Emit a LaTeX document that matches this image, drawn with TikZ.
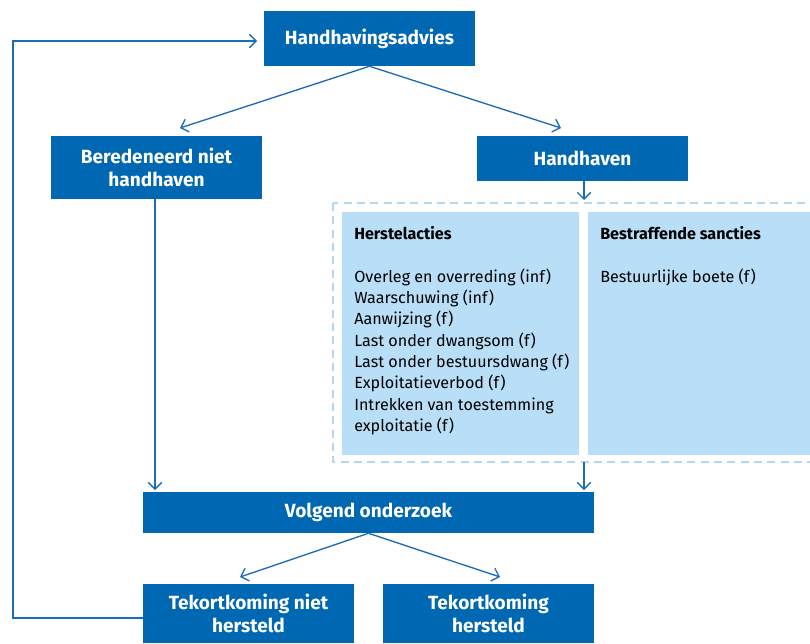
\documentclass[tikz,border=0pt]{standalone}
\usepackage{fontspec}
\setmainfont{Fira Sans}
\usetikzlibrary{arrows.meta}
\definecolor{boxblue}{HTML}{0067B2}
\definecolor{lineblue}{HTML}{1A6CB6}
\definecolor{panelblue}{HTML}{B8DFF7}
\definecolor{dashblue}{HTML}{B0D8F4}
\begin{document}
\begin{tikzpicture}[x=0.75pt,y=-0.75pt,
  bluebox/.style={fill=boxblue,text=white,font=\fontsize{14.3}{17.5}\selectfont\bfseries,align=center,inner sep=0pt,draw=none},
  conn/.style={draw=lineblue,line width=1pt,-{Straight Barb[length=5pt,width=10pt,line width=1pt]}},
  paneltext/.style={anchor=north west,align=left,inner sep=0pt,font=\fontsize{12.1}{16}\selectfont,text=black}]
\useasboundingbox (0,0) rectangle (810,643);
% boxes
\node[bluebox,minimum width=158.25pt,minimum height=41.25pt] (adv) at (369.5,38.5) {Handhavingsadvies};
\node[bluebox,minimum width=158.25pt,minimum height=47.25pt] (ber) at (156.5,167.5) {Beredeneerd niet\\handhaven};
\node[bluebox,minimum width=158.25pt,minimum height=33.75pt] (hh) at (582.5,158.5) {Handhaven};
\node[bluebox,minimum width=338.25pt,minimum height=30.75pt] (volg) at (368.5,512.5) {Volgend onderzoek};
\node[bluebox,minimum width=158.25pt,minimum height=44.25pt] (tnh) at (248.5,613.5) {Tekortkoming niet\\hersteld};
\node[bluebox,minimum width=158.25pt,minimum height=44.25pt] (th) at (488.5,613.5) {Tekortkoming\\hersteld};
% dashed container and panels
\draw[dashblue,line width=1pt,dash pattern=on 6pt off 4pt] (333,203) rectangle (830,462);
\coordinate (dashbot) at (584,462);
\fill[panelblue] (342,212) rectangle (579,455);
\fill[panelblue] (588,212) rectangle (830,455);
\node[paneltext] (herst) at (354,226) {\textbf{Herstelacties}\\[16pt]Overleg en overreding (inf)\\Waarschuwing (inf)\\Aanwijzing (f)\\Last onder dwangsom (f)\\Last onder bestuursdwang (f)\\Exploitatieverbod (f)\\Intrekken van toestemming\\exploitatie (f)};
\node[paneltext] (bestr) at (600,226) {\textbf{Bestraffende sancties}\\[16pt]Bestuurlijke boete (f)};
% connector end points
\coordinate (berin) at (180,128);
\coordinate (hhin) at (561,128);
\coordinate (dashin) at (584,200);
\coordinate (volgl) at (155,490);
\coordinate (volgr) at (584,490);
\coordinate (tnhin) at (240,577);
\coordinate (thin) at (500,577);
\coordinate (loopa) at (13,618);
\coordinate (loopb) at (13,41);
\coordinate (advin) at (257,41);
% connectors
\draw[conn] (adv.south) -- (berin);
\draw[conn] (adv.south) -- (hhin);
\draw[conn] (hh.south -| dashin) -- (dashin);
\draw[conn] (ber.south -| volgl) -- (volgl);
\draw[conn] (dashbot) -- (volgr);
\draw[conn] (volg.south) -- (tnhin);
\draw[conn] (volg.south) -- (thin);
\draw[conn] (tnh.west |- loopa) -- (loopa) -- (loopb) -- (advin);
\end{tikzpicture}
\end{document}
